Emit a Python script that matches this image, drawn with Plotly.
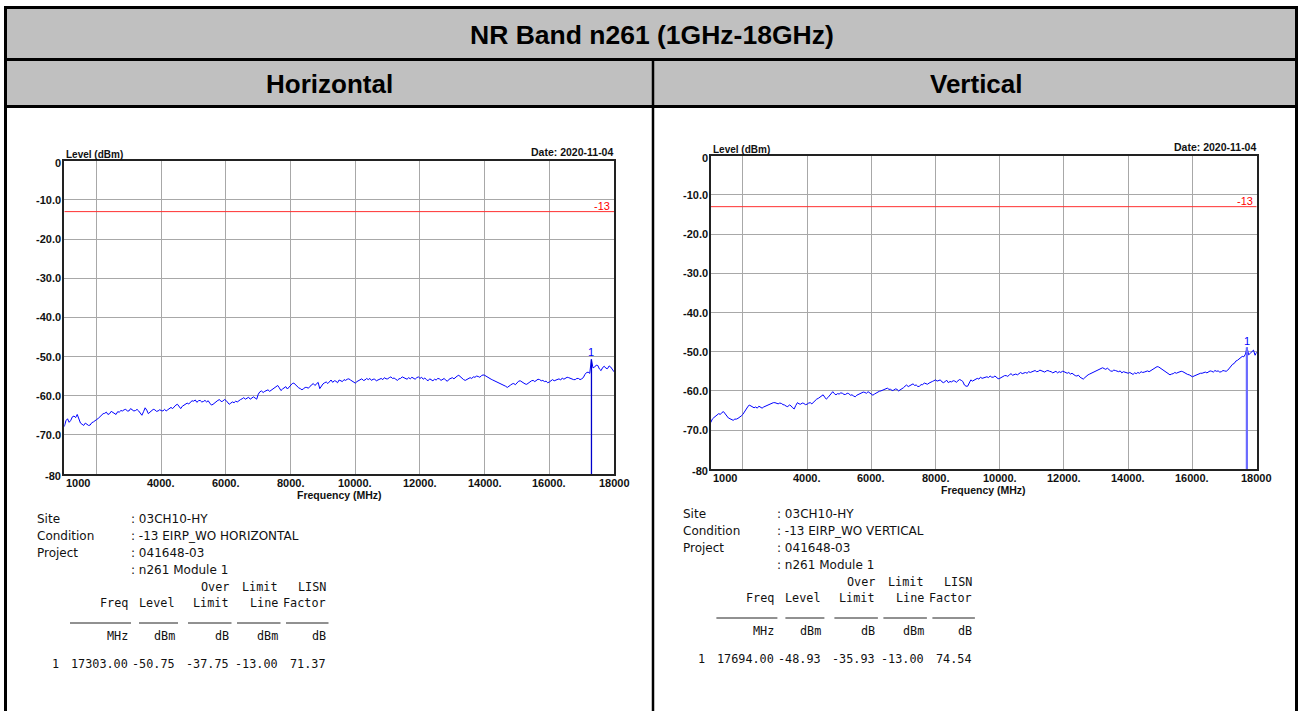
import plotly.graph_objects as go

W, H = 1301, 711

# ---------------- data ----------------
freq_mhz = list(range(1000, 18001, 50))

level_h = [
    -67.9, -66.4, -65.9, -66.8, -66.3, -65.4, -65.2, -65.6, -64.8, -66.2, -67.0, -67.3, -67.6, -67.0, -67.2, -67.6, -67.5, -66.9, -66.7, -66.5,
    -66.1, -65.8, -65.3, -65.0, -64.6, -64.5, -64.2, -64.8, -64.6, -64.0, -64.3, -64.5, -64.8, -64.1, -64.2, -63.8, -63.9, -63.6, -63.5, -63.9,
    -63.9, -63.3, -63.6, -63.9, -63.8, -63.5, -63.9, -64.4, -65.0, -64.1, -63.1, -63.7, -64.6, -64.2, -63.9, -63.5, -63.6, -64.0, -63.9, -63.6,
    -63.8, -63.9, -63.5, -63.9, -63.6, -63.2, -63.0, -63.3, -62.7, -62.4, -62.2, -62.8, -63.3, -62.7, -62.4, -62.0, -61.9, -62.1, -61.6, -61.3,
    -61.4, -61.1, -61.7, -61.3, -61.2, -61.6, -61.5, -61.2, -61.6, -61.3, -61.9, -62.4, -62.2, -61.8, -61.4, -61.2, -61.0, -61.5, -61.4, -61.0,
    -61.2, -61.7, -62.2, -61.9, -61.6, -61.8, -61.4, -61.6, -61.2, -61.0, -60.8, -60.5, -60.9, -60.6, -60.4, -60.9, -60.7, -60.3, -60.6, -60.9,
    -59.6, -59.0, -58.8, -59.2, -58.9, -58.6, -58.5, -58.9, -58.6, -58.4, -58.2, -57.8, -57.4, -58.0, -58.7, -58.3, -58.0, -57.7, -58.3, -57.9,
    -57.3, -56.9, -56.8, -57.3, -57.7, -58.0, -58.2, -58.5, -58.2, -57.9, -57.9, -58.1, -57.6, -57.3, -56.9, -57.4, -57.1, -56.6, -58.2, -57.5,
    -57.0, -56.7, -56.5, -56.9, -56.3, -56.0, -56.6, -56.2, -56.3, -56.7, -56.0, -56.3, -56.4, -55.9, -56.1, -55.8, -55.7, -56.0, -56.2, -56.5,
    -56.8, -56.4, -56.2, -55.9, -55.7, -56.1, -56.0, -55.6, -55.9, -55.6, -56.1, -55.8, -55.8, -56.2, -56.0, -55.7, -55.6, -55.9, -55.4, -55.7,
    -55.7, -55.4, -55.2, -55.6, -55.5, -55.8, -56.1, -55.7, -55.6, -55.2, -55.4, -55.7, -55.8, -55.4, -55.7, -55.3, -55.5, -55.8, -55.4, -55.2,
    -55.6, -55.3, -55.8, -55.5, -55.9, -56.2, -55.7, -56.0, -56.2, -55.8, -56.0, -55.6, -55.7, -56.1, -55.9, -55.6, -56.1, -56.3, -55.8, -55.6,
    -55.4, -55.7, -55.3, -55.0, -54.8, -55.2, -55.6, -55.9, -56.1, -55.8, -55.7, -55.4, -55.6, -55.2, -55.3, -55.0, -55.1, -55.3, -54.9, -54.7,
    -54.8, -55.1, -55.4, -55.5, -55.8, -56.0, -56.2, -56.4, -56.5, -56.8, -56.9, -57.1, -57.2, -57.6, -57.9, -57.5, -57.3, -57.0, -56.9, -57.2,
    -56.6, -56.3, -56.2, -56.5, -56.6, -57.0, -57.1, -56.7, -56.5, -56.2, -56.1, -56.4, -56.0, -55.8, -55.9, -56.2, -56.1, -56.4, -56.3, -56.7,
    -56.5, -56.1, -55.9, -56.2, -56.0, -55.8, -55.7, -56.0, -55.5, -55.8, -55.6, -55.3, -55.4, -55.6, -55.7, -55.9, -55.9, -55.6, -55.6, -55.9,
    -55.7, -55.4, -54.6, -54.1, -54.0, -54.3, -50.75, -52.9, -52.7, -52.2, -52.3, -53.2, -53.6, -52.8, -52.5, -53.0, -53.1, -52.4, -52.7, -53.2,
    -53.9,
]

level_v = [
    -68.1, -67.2, -66.8, -66.4, -66.1, -65.8, -66.0, -65.5, -65.3, -65.9, -66.6, -66.9, -67.1, -67.4, -67.5, -67.2, -67.2, -67.0, -66.8, -66.4,
    -66.0, -65.3, -64.9, -64.1, -63.6, -63.9, -64.0, -64.3, -64.1, -64.4, -63.9, -64.2, -64.4, -64.1, -63.9, -63.7, -63.6, -63.4, -63.2, -63.0,
    -63.0, -63.2, -63.3, -63.1, -63.2, -63.5, -63.6, -63.9, -64.0, -63.6, -63.8, -64.3, -64.6, -63.7, -63.0, -63.3, -63.4, -63.1, -63.2, -63.5,
    -63.4, -63.1, -63.0, -63.3, -62.8, -62.5, -62.1, -61.9, -61.6, -61.3, -61.0, -61.6, -62.1, -61.7, -61.2, -60.6, -60.2, -60.7, -61.0, -60.7,
    -60.8, -60.5, -60.6, -60.9, -60.9, -60.6, -60.7, -61.1, -61.0, -61.3, -61.5, -61.1, -60.9, -60.7, -60.6, -60.3, -60.4, -60.6, -60.2, -60.5,
    -60.9, -61.1, -60.8, -60.5, -60.3, -60.1, -60.0, -59.8, -59.7, -59.5, -59.3, -59.6, -59.6, -59.9, -59.8, -59.5, -59.6, -60.0, -59.8, -59.4,
    -59.2, -58.8, -58.5, -58.9, -58.6, -58.3, -58.2, -58.6, -58.5, -58.9, -58.8, -58.4, -58.4, -58.0, -58.1, -58.3, -58.0, -57.7, -57.6, -57.4,
    -57.2, -57.5, -57.4, -57.2, -57.7, -57.9, -57.6, -57.3, -57.9, -57.6, -57.7, -57.4, -57.5, -57.8, -57.4, -57.1, -57.3, -57.6, -58.5, -58.8,
    -58.8, -58.0, -57.2, -57.5, -57.2, -56.9, -56.8, -57.0, -56.5, -56.8, -56.7, -56.4, -56.4, -56.6, -56.2, -56.5, -56.5, -56.2, -56.6, -56.9,
    -56.8, -56.5, -56.4, -56.1, -56.1, -56.3, -55.9, -55.6, -56.0, -55.8, -55.7, -55.9, -55.5, -55.3, -55.6, -55.4, -55.3, -55.5, -55.1, -55.3,
    -55.2, -54.9, -54.8, -55.1, -55.0, -54.7, -54.9, -55.2, -55.2, -54.9, -54.8, -55.0, -55.1, -55.4, -55.2, -55.0, -55.4, -55.1, -55.3, -55.0,
    -55.1, -55.3, -55.5, -55.3, -55.7, -55.5, -55.9, -56.1, -56.2, -56.0, -56.5, -56.8, -57.0, -56.6, -56.2, -55.9, -55.7, -55.5, -55.4, -55.2,
    -55.1, -54.8, -54.6, -54.4, -54.1, -54.3, -54.5, -54.2, -54.7, -54.9, -55.0, -54.7, -54.8, -55.0, -55.1, -54.9, -55.4, -55.1, -55.3, -55.5,
    -55.5, -55.3, -55.6, -55.8, -55.4, -55.6, -55.3, -55.5, -55.1, -55.3, -55.2, -55.0, -54.9, -55.1, -54.8, -54.6, -54.3, -54.0, -53.8, -53.9,
    -54.2, -54.4, -54.7, -55.0, -55.4, -55.7, -55.9, -55.7, -55.6, -55.3, -55.5, -55.3, -55.2, -55.0, -55.1, -55.4, -55.6, -55.8, -55.9, -56.2,
    -56.4, -56.2, -56.0, -55.8, -55.7, -55.5, -55.5, -55.3, -55.2, -55.4, -55.1, -54.9, -55.0, -55.2, -54.8, -55.0, -54.9, -55.2, -55.1, -54.8,
    -54.9, -55.0, -54.7, -54.1, -53.6, -53.2, -53.0, -52.4, -52.2, -51.9, -51.7, -51.2, -51.3, -50.6, -48.93, -50.8, -50.4, -50.0, -49.6, -50.9,
    -50.1,
]

limit_dbm = -13
marker_freq = {"h": 17303.00, "v": 17694.00}
marker_level = {"h": -50.75, "v": -48.93}

x_tick_vals = [1000, 4000, 6000, 8000, 10000, 12000, 14000, 16000, 18000]
x_tick_text = ["1000", "4000.", "6000.", "8000.", "10000.", "12000.", "14000.", "16000.", "18000"]
x_grid_vals = [2000, 4000, 6000, 8000, 10000, 12000, 14000, 16000]
y_tick_vals = [0, -10, -20, -30, -40, -50, -60, -70, -80]
y_tick_text = ["0", "-10.0", "-20.0", "-30.0", "-40.0", "-50.0", "-60.0", "-70.0", "-80"]

title_text = "NR Band n261 (1GHz-18GHz)"
col_titles = ["Horizontal", "Vertical"]

info_labels = ["Site", "Condition", "Project", ""]
info_values = {
    "h": [": 03CH10-HY", ": -13 EIRP_WO HORIZONTAL", ": 041648-03", ": n261 Module 1"],
    "v": [": 03CH10-HY", ": -13 EIRP_WO VERTICAL", ": 041648-03", ": n261 Module 1"],
}
tbl_head1 = ["", "", "Over", "Limit", "LISN"]
tbl_head2 = ["Freq", "Level", "Limit", "Line", "Factor"]
tbl_units = ["MHz", "dBm", "dB", "dBm", "dB"]
tbl_rows = {
    "h": ["17303.00", "-50.75", "-37.75", "-13.00", "71.37"],
    "v": ["17694.00", "-48.93", "-35.93", "-13.00", "74.54"],
}

# ---------------- helpers ----------------
def PX(x):
    return x / W


def PY(y):
    return 1 - y / H


fig = go.Figure()

panels = [
    dict(key="h", xa="x", ya="y", l=64.3, r=614.0, t=160.7, b=474.0, tx=0.0, ty=0.0, levels=level_h),
    dict(key="v", xa="x2", ya="y2", l=710.7, r=1256.7, t=155.7, b=469.3, tx=646.4, ty=-5.0, levels=level_v),
]

BOLD = "Liberation Sans, Arial, sans-serif"
MONO = "DejaVu Sans Mono, monospace"
SANS = "DejaVu Sans, sans-serif"

annotations = []
shapes = []

for i, p in enumerate(panels):
    xa, ya = p["xa"], p["ya"]
    ax_sfx = "" if i == 0 else "2"
    fig.add_trace(go.Scatter(x=freq_mhz, y=p["levels"], mode="lines",
                             line=dict(color="#0000ff", width=1), xaxis=xa, yaxis=ya,
                             hoverinfo="skip", showlegend=False))
    fig.add_trace(go.Scatter(x=[freq_mhz[0], freq_mhz[-1]], y=[limit_dbm, limit_dbm], mode="lines",
                             line=dict(color="#ff3030", width=1), xaxis=xa, yaxis=ya,
                             hoverinfo="skip", showlegend=False))
    mf, ml = marker_freq[p["key"]], marker_level[p["key"]]
    fig.add_trace(go.Scatter(x=[mf, mf], y=[y_tick_vals[-1], ml], mode="lines",
                             line=dict(color="#0000cc" if i == 0 else "#6a6aff", width=1.3 if i == 0 else 2.2),
                             xaxis=xa, yaxis=ya, hoverinfo="skip", showlegend=False))
    annotations.append(dict(x=mf, y=ml, xref=xa, yref=ya, text="1", showarrow=False,
                            yanchor="middle", yshift=7, font=dict(family=BOLD, size=11, color="#0000ff")))
    annotations.append(dict(x=freq_mhz[-1], y=limit_dbm, xref=xa, yref=ya, text=str(limit_dbm), showarrow=False,
                            xanchor="right", yanchor="middle", xshift=-2, yshift=6,
                            font=dict(family=BOLD, size=11, color="#ff0000")))
    for v, t in zip(x_tick_vals, x_tick_text):
        annotations.append(dict(x=v, y=y_tick_vals[-1], xref=xa, yref=ya, text="<b>%s</b>" % t, showarrow=False,
                                xanchor="left" if v == x_tick_vals[0] else "center", yanchor="middle", yshift=-8.5,
                                font=dict(family=BOLD, size=11, color="#111111")))
    for v, t in zip(y_tick_vals, y_tick_text):
        ys = -2 if v in (y_tick_vals[0], y_tick_vals[-1]) else 0
        annotations.append(dict(x=x_tick_vals[0], y=v, xref=xa, yref=ya, text="<b>%s</b>" % t, showarrow=False,
                                xanchor="right", yanchor="middle", xshift=-1, yshift=ys,
                                font=dict(family=BOLD, size=11, color="#111111")))
    annotations.append(dict(x=0, y=1, xref=xa + " domain", yref=ya + " domain", text="<b>Level (dBm)</b>",
                            showarrow=False, xanchor="left", yanchor="middle", yshift=6.5,
                            font=dict(family=BOLD, size=10, color="#111111")))
    annotations.append(dict(x=1, y=1, xref=xa + " domain", yref=ya + " domain", text="<b>Date: 2020-11-04</b>",
                            showarrow=False, xanchor="right", yanchor="middle", xshift=1, yshift=8.5,
                            font=dict(family=BOLD, size=10.5, color="#111111")))
    annotations.append(dict(x=0.5, y=0, xref=xa + " domain", yref=ya + " domain", text="<b>Frequency (MHz)</b>",
                            showarrow=False, xanchor="center", yanchor="middle", yshift=-21,
                            font=dict(family=BOLD, size=10.5, color="#111111")))

    axis_common = dict(showline=True, mirror=True, linecolor="#222222", linewidth=2,
                       showgrid=True, gridcolor="#a8a8a8", gridwidth=1, zeroline=False,
                       showticklabels=False, ticks="")
    fig.update_layout(**{
        "xaxis" + ax_sfx: dict(domain=[PX(p["l"]), PX(p["r"])], range=[freq_mhz[0], freq_mhz[-1]],
                               tickvals=x_grid_vals, anchor=ya, **axis_common),
        "yaxis" + ax_sfx: dict(domain=[PY(p["b"]), PY(p["t"])], range=[y_tick_vals[-1], y_tick_vals[0]],
                               tickvals=y_tick_vals[1:-1], anchor=xa, **axis_common),
    })

    tx, ty = p["tx"], p["ty"]
    for k, (lab, val) in enumerate(zip(info_labels, info_values[p["key"]])):
        yy = 519 + 17 * k + ty
        if lab:
            annotations.append(dict(x=PX(35 + tx), y=PY(yy), xref="paper", yref="paper", text=lab, showarrow=False,
                                    xanchor="left", yanchor="middle",
                                    font=dict(family=SANS, size=12, color="#111111")))
        annotations.append(dict(x=PX(129 + tx), y=PY(yy), xref="paper", yref="paper", text=val, showarrow=False,
                                xanchor="left", yanchor="middle",
                                font=dict(family=SANS, size=12, color="#111111")))
    col_right = [130, 177, 230.5, 279.5, 327.5]
    col_left = [70, 139, 188, 237, 286]
    for c in range(5):
        xr = PX(col_right[c] + tx)
        for txt, yy in ((tbl_head1[c], 587), (tbl_head2[c], 603), (tbl_units[c], 636), (tbl_rows[p["key"]][c], 664)):
            if not txt:
                continue
            annotations.append(dict(x=xr, y=PY(yy + ty), xref="paper", yref="paper", text=txt, showarrow=False,
                                    xanchor="right", yanchor="middle",
                                    font=dict(family=MONO, size=11.8, color="#111111")))
        shapes.append(dict(type="line", xref="paper", yref="paper",
                           x0=PX(col_left[c] + tx), x1=PX(col_right[c] + 1 + tx),
                           y0=PY(623 + ty), y1=PY(623 + ty), line=dict(color="#222222", width=1)))
    annotations.append(dict(x=PX(50 + tx), y=PY(664 + ty), xref="paper", yref="paper", text="1", showarrow=False,
                            xanchor="left", yanchor="middle", font=dict(family=MONO, size=11.8, color="#111111")))

# ---------------- header table ----------------
shapes += [
    dict(type="rect", xref="paper", yref="paper", x0=PX(5), x1=PX(1296), y0=PY(59), y1=PY(7.5),
         fillcolor="#c0c0c0", line=dict(width=0), layer="below"),
    dict(type="rect", xref="paper", yref="paper", x0=PX(5), x1=PX(1296), y0=PY(106.5), y1=PY(59),
         fillcolor="#c0c0c0", line=dict(width=0), layer="below"),
]
for yy in (7.5, 59.5, 106.5):
    shapes.append(dict(type="line", xref="paper", yref="paper", x0=PX(4), x1=PX(1298), y0=PY(yy), y1=PY(yy),
                       line=dict(color="#000000", width=3)))
for xx in (5.5, 1296.5):
    shapes.append(dict(type="line", xref="paper", yref="paper", x0=PX(xx), x1=PX(xx), y0=PY(6), y1=PY(711),
                       line=dict(color="#000000", width=3)))
shapes.append(dict(type="line", xref="paper", yref="paper", x0=PX(653), x1=PX(653), y0=PY(59.5), y1=PY(711),
                   line=dict(color="#000000", width=2.5)))

annotations.append(dict(x=PX(652), y=PY(35), xref="paper", yref="paper", text="<b>%s</b>" % title_text,
                        showarrow=False, xanchor="center", yanchor="middle",
                        font=dict(family=BOLD, size=26.5, color="#000000")))
for cx, t in zip((329, 976), col_titles):
    annotations.append(dict(x=PX(cx), y=PY(84), xref="paper", yref="paper", text="<b>%s</b>" % t,
                            showarrow=False, xanchor="center", yanchor="middle",
                            font=dict(family=BOLD, size=26, color="#000000")))

fig.update_layout(width=W, height=H, autosize=False, margin=dict(l=0, r=0, t=0, b=0),
                  paper_bgcolor="white", plot_bgcolor="white", showlegend=False,
                  annotations=annotations, shapes=shapes)

fig.write_html("out.html")
